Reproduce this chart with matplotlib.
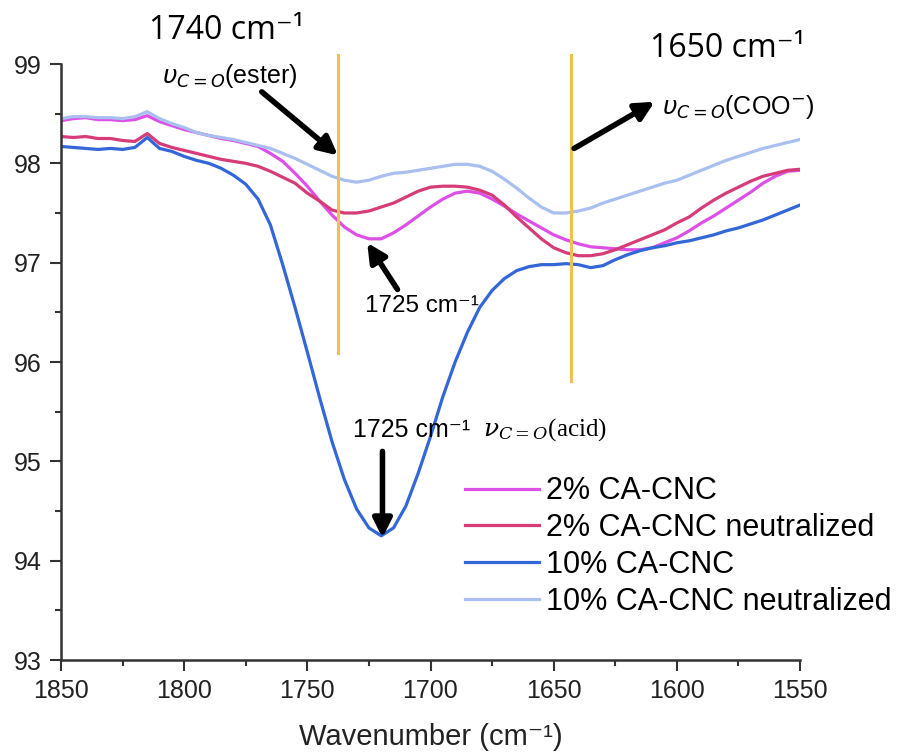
import matplotlib
matplotlib.use("Agg")
import matplotlib.pyplot as plt
import numpy as np

plt.rcParams['font.family'] = ['Liberation Sans', 'DejaVu Sans']

# wavenumber grid (cm-1), every 5 cm-1
wavenumber = np.arange(1850, 1549, -5)

ca2 = [98.43, 98.45, 98.46, 98.44, 98.44, 98.43, 98.44, 98.48, 98.42, 98.38,
       98.34, 98.31, 98.28, 98.25, 98.23, 98.20, 98.17, 98.10, 98.02, 97.90,
       97.77, 97.62, 97.48, 97.36, 97.28, 97.24, 97.24, 97.30, 97.38, 97.47,
       97.56, 97.64, 97.70, 97.72, 97.70, 97.64, 97.57, 97.49, 97.42, 97.35,
       97.28, 97.23, 97.19, 97.16, 97.15, 97.14, 97.13, 97.13, 97.15, 97.20,
       97.25, 97.32, 97.40, 97.47, 97.55, 97.63, 97.71, 97.80, 97.87, 97.92,
       97.93]

ca2_neut = [98.27, 98.26, 98.27, 98.25, 98.25, 98.23, 98.22, 98.30, 98.20, 98.16,
            98.13, 98.10, 98.07, 98.04, 98.02, 98.00, 97.97, 97.92, 97.86, 97.80,
            97.70, 97.62, 97.53, 97.50, 97.50, 97.52, 97.56, 97.60, 97.66, 97.72,
            97.76, 97.77, 97.77, 97.76, 97.73, 97.68, 97.58, 97.46, 97.35, 97.24,
            97.15, 97.10, 97.07, 97.07, 97.09, 97.13, 97.18, 97.23, 97.28, 97.33,
            97.40, 97.46, 97.55, 97.63, 97.70, 97.76, 97.82, 97.87, 97.90, 97.93,
            97.94]

ca10 = [98.17, 98.16, 98.15, 98.14, 98.15, 98.14, 98.16, 98.26, 98.15, 98.12,
        98.07, 98.03, 98.00, 97.95, 97.88, 97.79, 97.64, 97.38, 96.98, 96.55,
        96.10, 95.64, 95.20, 94.82, 94.52, 94.33, 94.25, 94.33, 94.55, 94.88,
        95.25, 95.65, 96.00, 96.30, 96.55, 96.72, 96.84, 96.92, 96.96, 96.98,
        96.98, 96.99, 96.98, 96.95, 96.97, 97.03, 97.08, 97.12, 97.15, 97.17,
        97.20, 97.22, 97.25, 97.28, 97.32, 97.35, 97.39, 97.43, 97.48, 97.53,
        97.58]

ca10_neut = [98.45, 98.47, 98.47, 98.46, 98.46, 98.45, 98.47, 98.52, 98.45, 98.40,
             98.36, 98.31, 98.28, 98.26, 98.24, 98.21, 98.18, 98.15, 98.10, 98.05,
             97.99, 97.93, 97.87, 97.83, 97.81, 97.83, 97.87, 97.90, 97.91, 97.93,
             97.95, 97.97, 97.99, 97.99, 97.97, 97.92, 97.84, 97.75, 97.65, 97.56,
             97.50, 97.50, 97.52, 97.55, 97.60, 97.64, 97.68, 97.72, 97.76, 97.80,
             97.83, 97.88, 97.93, 97.98, 98.03, 98.07, 98.11, 98.15, 98.18, 98.21,
             98.24]

labels = ['2% CA-CNC', '2% CA-CNC neutralized', '10% CA-CNC', '10% CA-CNC neutralized']
colors = ['#DC50E6', '#D63C78', '#3366D6', '#A9BFF0']

fig = plt.figure(figsize=(9, 7.56), dpi=100)
ax = fig.add_axes([61 / 900, 96 / 756, 739 / 900, 596 / 756])

for series, label, color in zip([ca2, ca2_neut, ca10, ca10_neut], labels, colors):
    ax.plot(wavenumber, series, color=color, lw=2.3, label=label)

ax.set_xlim(1850, 1550)
ax.set_ylim(93, 99)
ax.set_xticks(np.arange(1850, 1549, -50))
ax.set_xticks(np.arange(1825, 1549, -50), minor=True)
ax.set_yticks(np.arange(93, 100, 1))
ax.set_yticks(np.arange(93.5, 99, 1), minor=True)

for side in ['top', 'right']:
    ax.spines[side].set_visible(False)
for side in ['left', 'bottom']:
    ax.spines[side].set_linewidth(1.8)
    ax.spines[side].set_color('#333333')
ax.tick_params(which='major', direction='out', length=8, width=1.5, color='#333333',
               labelsize=18, labelcolor='#222222', pad=6)
ax.tick_params(which='minor', direction='out', length=4, width=1.5, color='#333333')

ax.set_xlabel('Wavenumber (cm⁻¹)', fontsize=21, color='#222222', labelpad=14)

# marker lines for the carbonyl bands
ax.plot([1737.6, 1737.6], [99.09, 96.09], color='#F0C050', lw=2.2, clip_on=False)
ax.plot([1642.9, 1642.9], [99.09, 95.81], color='#F0C050', lw=2.2, clip_on=False)

arrow = dict(arrowstyle='-|>', color='black', lw=4, mutation_scale=28, shrinkA=0, shrinkB=0)

ax.text(1782.7, 99.34, '1740 cm⁻¹', fontsize=23, ha='center', va='center',
        family=['Open Sans', 'DejaVu Sans'], clip_on=False)
ax.text(1781.5, 98.88, r'$\upsilon_{C=O}$(ester)', fontsize=18, ha='center', va='center')
ax.annotate('', xy=(1737.6, 98.08), xytext=(1768.5, 98.72), arrowprops=arrow)

ax.text(1579.3, 99.16, '1650 cm⁻¹', fontsize=23, ha='center', va='center',
        family=['Open Sans', 'DejaVu Sans'], clip_on=False)
ax.text(1606, 98.57, r'$\upsilon_{C=O}$(COO$^{-}$)', fontsize=18, ha='left', va='center')
ax.annotate('', xy=(1609, 98.62), xytext=(1641.7, 98.15), arrowprops=arrow)

ax.text(1703.6, 96.56, '1725 cm⁻¹', fontsize=17.5, ha='center', va='center')
ax.annotate('', xy=(1725.7, 97.2), xytext=(1713.4, 96.73), arrowprops=arrow)

ax.text(1731.4, 95.32, '1725 cm⁻¹', fontsize=18, ha='left', va='center')
ax.text(1678.8, 95.32, r'$\nu_{C=O}$(acid)', fontsize=18, ha='left', va='center',
        family=['Liberation Serif', 'DejaVu Serif'], math_fontfamily='dejavuserif')
ax.annotate('', xy=(1719.5, 94.23), xytext=(1719.5, 95.1), arrowprops=arrow)

ax.legend(loc='upper left', bbox_to_anchor=(0.547, 0.308), frameon=False, fontsize=22,
          handlelength=2.4, handletextpad=0.25, labelspacing=0.22, borderpad=0,
          borderaxespad=0)

plt.savefig('out.png', dpi=100)
